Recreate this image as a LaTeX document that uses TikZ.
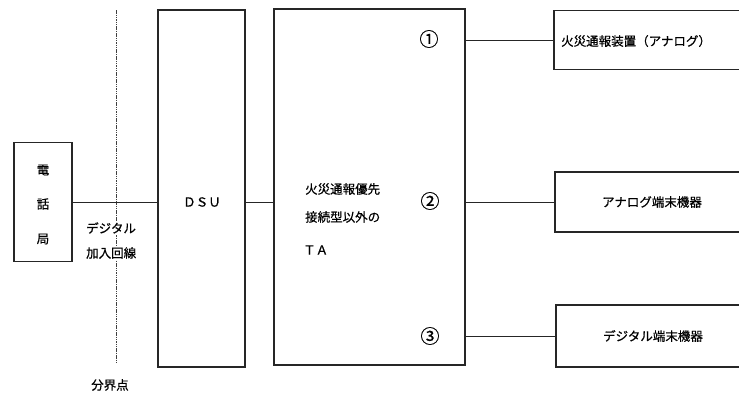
\documentclass[tikz,border=0pt]{standalone}
\usepackage{fontspec}
\setmainfont{Noto Sans CJK JP}
\newfontfamily\jpheavy{Noto Sans CJK JP}[FakeBold=0.6]
\begin{document}
\begin{tikzpicture}[x=1pt,y=-1pt,
  box/.style={draw=black!85,line width=1.1pt,inner sep=0pt},
  conn/.style={draw=black!85,line width=0.9pt},
  lbl/.style={font=\jpheavy\fontsize{12.5}{14}\selectfont,inner sep=0pt},
  num/.style={font=\jpheavy\fontsize{19}{20}\selectfont,inner sep=0pt},
  bound/.style={draw=black!75,line width=0.7pt,dash pattern=on 1.5pt off 0.8pt}]
\useasboundingbox (0,0) rectangle (739,394);
\clip (0,0) rectangle (739,394);
% dividing line
\coordinate (dtop) at (116,10);
\coordinate (dbot) at (116,364);
\draw[bound] (dtop) -- (dbot);
% boxes
\node[box,minimum width=58,minimum height=119] (tel) at (43,202) {};
\node[box,minimum width=87,minimum height=357] (dsu) at (201.5,188.5) {};
\node[box,minimum width=191,minimum height=356] (ta) at (369.5,187) {};
\node[box,minimum width=206,minimum height=59] (b1) at (657,40) {};
\node[box,minimum width=205,minimum height=60] (b2) at (657.5,202) {};
\node[box,minimum width=204,minimum height=62] (b3) at (658,336) {};
% connectors
\draw[conn] (tel.east) -- (tel.east -| dsu.west);
\draw[conn] (dsu.east |- tel.east) -- (ta.west |- tel.east);
\draw[conn] (ta.east |- b1.west) -- (b1.west);
\draw[conn] (ta.east |- b2.west) -- (b2.west);
\draw[conn] (ta.east |- b3.west) -- (b3.west);
% labels
\node[lbl] (t1) at (43,170) {電};
\node[lbl] (t2) at (43,204) {話};
\node[lbl] (t3) at (43,239) {局};
\node[lbl,fill=white,anchor=west,inner sep=1pt] (dg) at (85,228) {デジタル};
\node[lbl,fill=white,anchor=west,inner sep=1pt] (ka) at (85,253) {加入回線};
\node[lbl] (bk) at (110,385) {分界点};
\node[lbl] (dsut) at (202,202) {ＤＳＵ};
\node[lbl,anchor=west] (ta1) at (305,189) {火災通報優先};
\node[lbl,anchor=west] (ta2) at (305,217) {接続型以外の};
\node[lbl,anchor=west] (ta3) at (303,250) {ＴＡ};
\node[num] (n1) at (429,39) {①};
\node[num] (n2) at (430,201) {②};
\node[num] (n3) at (430,336) {③};
\node[lbl,anchor=west] (b1t) at (561,41) {火災通報装置（アナログ）};
\node[lbl] (b2t) at (652,202) {アナログ端末機器};
\node[lbl] (b3t) at (653,336) {デジタル端末機器};
\end{tikzpicture}
\end{document}
